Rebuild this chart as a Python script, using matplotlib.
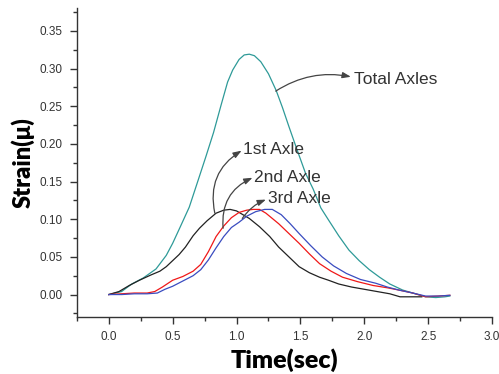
import numpy as np
import matplotlib
matplotlib.use("Agg")
from matplotlib import pyplot as plt
from matplotlib.ticker import MultipleLocator

# strain history per axle group (time in sec, strain)
t_total = [0, 0.1, 0.18, 0.27, 0.37, 0.45, 0.5, 0.56, 0.63, 0.7, 0.76, 0.82, 0.88, 0.93,
           0.97, 1.02, 1.06, 1.1, 1.14, 1.19, 1.25, 1.31, 1.36, 1.41, 1.47, 1.54, 1.6,
           1.66, 1.72, 1.8, 1.88, 1.96, 2.04, 2.12, 2.2, 2.3, 2.4, 2.48, 2.56, 2.63, 2.67]
s_total = [0, 0.004, 0.014, 0.022, 0.034, 0.052, 0.068, 0.09, 0.116, 0.152, 0.183, 0.215,
           0.252, 0.282, 0.298, 0.312, 0.318, 0.319, 0.317, 0.309, 0.293, 0.271, 0.248,
           0.223, 0.194, 0.161, 0.14, 0.115, 0.099, 0.078, 0.059, 0.045, 0.033, 0.023,
           0.014, 0.006, 0.001, -0.003, -0.004, -0.003, -0.002]

t_ax1 = [0, 0.08, 0.16, 0.24, 0.33, 0.4, 0.45, 0.5, 0.55, 0.6, 0.66, 0.71, 0.77, 0.84,
         0.9, 0.95, 1.0, 1.05, 1.1, 1.18, 1.26, 1.33, 1.41, 1.49, 1.57, 1.65, 1.72, 1.8,
         1.9, 2.0, 2.1, 2.2, 2.28, 2.36, 2.45]
s_ax1 = [0, 0.004, 0.012, 0.019, 0.026, 0.031, 0.037, 0.045, 0.053, 0.063, 0.078, 0.088,
         0.098, 0.108, 0.112, 0.113, 0.111, 0.106, 0.101, 0.09, 0.077, 0.063, 0.05, 0.037,
         0.029, 0.023, 0.019, 0.014, 0.01, 0.007, 0.004, 0.001, -0.003, -0.003, -0.003]

t_ax2 = [0, 0.1, 0.2, 0.3, 0.36, 0.42, 0.5, 0.58, 0.66, 0.72, 0.78, 0.84, 0.9, 0.96, 1.02,
         1.08, 1.13, 1.18, 1.23, 1.28, 1.33, 1.41, 1.49, 1.57, 1.65, 1.74, 1.83, 1.95,
         2.07, 2.18, 2.27, 2.38, 2.48, 2.58, 2.67]
s_ax2 = [0, 0.001, 0.002, 0.002, 0.004, 0.010, 0.019, 0.024, 0.031, 0.04, 0.057, 0.077,
         0.091, 0.102, 0.109, 0.112, 0.113, 0.113, 0.108, 0.101, 0.094, 0.081, 0.068,
         0.054, 0.041, 0.031, 0.023, 0.017, 0.012, 0.009, 0.006, 0.002, -0.003, -0.002,
         -0.001]

t_ax3 = [0, 0.1, 0.2, 0.3, 0.38, 0.44, 0.5, 0.58, 0.66, 0.72, 0.78, 0.84, 0.9, 0.96, 1.02,
         1.08, 1.15, 1.22, 1.28, 1.35, 1.42, 1.49, 1.58, 1.67, 1.76, 1.86, 1.97, 2.09,
         2.18, 2.27, 2.38, 2.48, 2.58, 2.67]
s_ax3 = [0, 0.0, 0.001, 0.001, 0.002, 0.007, 0.011, 0.018, 0.025, 0.033, 0.046, 0.062,
         0.077, 0.089, 0.096, 0.104, 0.110, 0.113, 0.113, 0.106, 0.094, 0.081, 0.065,
         0.05, 0.038, 0.028, 0.02, 0.015, 0.01, 0.006, 0.002, -0.002, -0.002, -0.001]

fig = plt.figure(figsize=(4.99, 3.74), dpi=100)
ax = fig.add_axes([0.154, 0.152, 0.832, 0.826])

ax.plot(t_total, s_total, color='#2e9a98', lw=0.9)
ax.plot(t_ax1, s_ax1, color='#222222', lw=0.9)
ax.plot(t_ax2, s_ax2, color='#f01818', lw=0.9)
ax.plot(t_ax3, s_ax3, color='#3a4cc0', lw=0.9)

ax.set_xlim(-0.25, 3.0)
ax.set_ylim(-0.03, 0.38)
ax.xaxis.set_minor_locator(MultipleLocator(0.25))
ax.yaxis.set_minor_locator(MultipleLocator(0.025))
ax.set_xticks(np.arange(0, 3.01, 0.5))
ax.set_xticklabels(['%.1f' % v for v in np.arange(0, 3.01, 0.5)])
ax.set_yticks(np.arange(0, 0.351, 0.05))
ax.set_yticklabels(['%.2f' % v for v in np.arange(0, 0.351, 0.05)])

for side in ['top', 'right']:
    ax.spines[side].set_visible(False)
for side in ['left', 'bottom']:
    ax.spines[side].set_color('#333333')
    ax.spines[side].set_linewidth(1.0)
ax.tick_params(which='major', length=5, width=1, color='#333333', labelsize=8.5,
               labelcolor='#333333', pad=5)
ax.tick_params(which='minor', length=3, width=1, color='#333333')
for lab in ax.get_xticklabels() + ax.get_yticklabels():
    lab.set_family('Liberation Sans')

ax.set_xlabel('Time(sec)', fontsize=18, fontweight='heavy', family='Lato', labelpad=4)
ax.set_ylabel('Strain(\u03bc)', fontsize=17, fontweight='heavy', family='Lato', labelpad=4)

# callouts for each curve
arrow = dict(arrowstyle='-|>,head_length=0.5,head_width=0.18', color='#444444', lw=0.9,
             shrinkA=0, shrinkB=0)
callouts = [
    ('Total Axles', (1.307, 0.270), (1.895, 0.289), (1.92, 0.286), -0.2),
    ('1st Axle', (0.83, 0.108), (1.04, 0.191), (1.05, 0.192), -0.35),
    ('2nd Axle', (0.895, 0.088), (1.125, 0.155), (1.14, 0.156), -0.35),
    ('3rd Axle', (1.045, 0.101), (1.23, 0.126), (1.25, 0.127), -0.15),
]
for label, tail, head, pos, rad in callouts:
    ax.annotate('', xy=head, xytext=tail,
                arrowprops=dict(arrow, connectionstyle='arc3,rad=%s' % rad))
    ax.text(pos[0], pos[1], label, fontsize=12.5, family='Liberation Sans',
            color='#333333', va='center', ha='left')

fig.savefig('out.png', dpi=100)
